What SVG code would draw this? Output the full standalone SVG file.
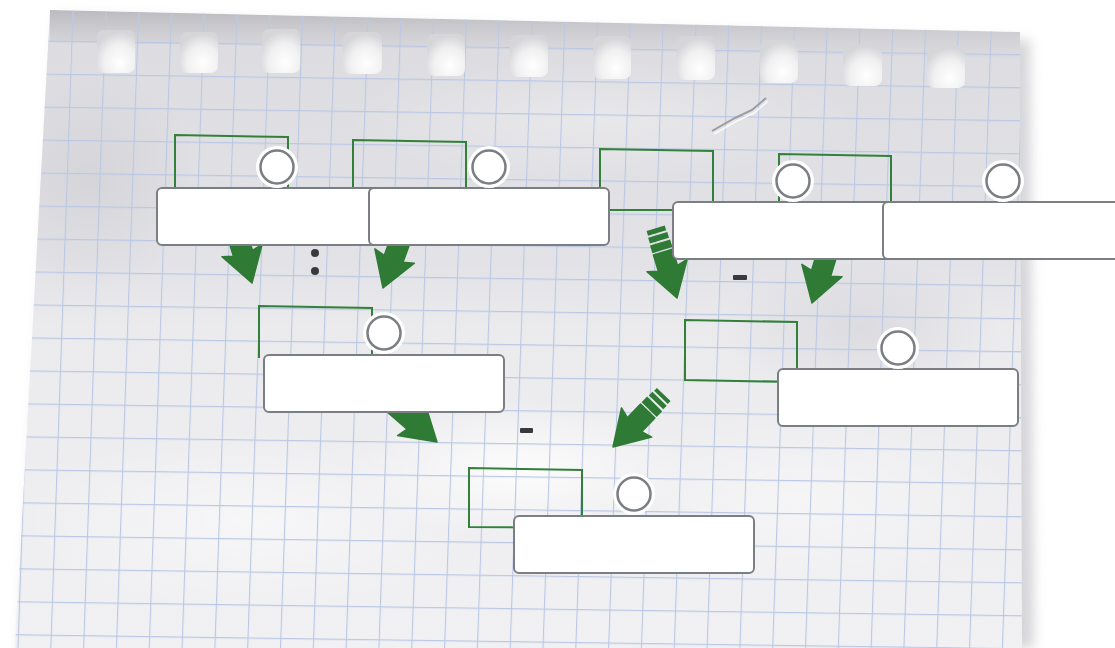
<svg xmlns="http://www.w3.org/2000/svg" width="1115" height="648" viewBox="0 0 1115 648">
  <defs>
    <style>
      .frame { fill: none; stroke: #33803a; stroke-width: 2; }
      .label { fill: #ffffff; stroke: #7b7e82; stroke-width: 2; }
      .ring { fill: #ffffff; }
      .badge { fill: #ffffff; stroke: #7b7e82; stroke-width: 2.5; }
      .arrow { fill: #2f7a34; stroke: #2f7a34; stroke-width: 1.5; stroke-linejoin: round; }
      .stripe { fill: #2f7a34; }
      .mark { fill: #3a3a3e; }
      .hole { fill: url(#holeGrad); }
    </style>
    <pattern id="grid" width="32.8" height="33" patternUnits="userSpaceOnUse" patternTransform="translate(7 7) rotate(0.8) skewX(-1.2)">
      <path d="M0 0.5 H32.8 M0.5 0 V33" fill="none" stroke="#bac8e4" stroke-width="1.3"/>
    </pattern>
    <linearGradient id="paperGrad" x1="0" y1="0" x2="0" y2="1">
      <stop offset="0" stop-color="#dcdce0"/>
      <stop offset="0.4" stop-color="#e3e3e7"/>
      <stop offset="0.5" stop-color="#ebebee"/>
      <stop offset="1" stop-color="#f1f1f3"/>
    </linearGradient>
    <radialGradient id="glow" cx="0.5" cy="0.5" r="0.5">
      <stop offset="0" stop-color="#ffffff" stop-opacity="0.85"/>
      <stop offset="1" stop-color="#ffffff" stop-opacity="0"/>
    </radialGradient>
    <radialGradient id="dim" cx="0.5" cy="0.5" r="0.5">
      <stop offset="0" stop-color="#b8b8bf" stop-opacity="0.3"/>
      <stop offset="1" stop-color="#b8b8bf" stop-opacity="0"/>
    </radialGradient>
    <radialGradient id="holeGrad" cx="0.6" cy="0.75" r="0.7">
      <stop offset="0" stop-color="#ffffff"/>
      <stop offset="0.6" stop-color="#f0f0f1"/>
      <stop offset="1" stop-color="#d6d6d9"/>
    </radialGradient>
    <linearGradient id="stripGrad" x1="0" y1="0" x2="0" y2="1">
      <stop offset="0" stop-color="#b4b4b9" stop-opacity="0.85"/>
      <stop offset="1" stop-color="#cfcfd3" stop-opacity="0.15"/>
    </linearGradient>
    <filter id="soft" x="-10%" y="-10%" width="120%" height="120%">
      <feGaussianBlur stdDeviation="6"/>
    </filter>
    <clipPath id="paperClip">
      <polygon points="50,10 1020,32 1022,648 15,648"/>
    </clipPath>
  </defs>

  <rect width="1115" height="648" fill="#ffffff"/>

  <!-- paper -->
  <g id="paper">
    <polygon points="58,16 1030,40 1034,648 20,648" fill="#9a9aa0" opacity="0.4" filter="url(#soft)"/>
    <polygon points="50,10 1020,32 1022,648 15,648" fill="url(#paperGrad)"/>
    <g clip-path="url(#paperClip)">
      <ellipse cx="520" cy="470" rx="170" ry="70" fill="url(#glow)"/>
      <ellipse cx="250" cy="520" rx="230" ry="90" fill="url(#glow)" opacity="0.6"/>
      <ellipse cx="800" cy="500" rx="220" ry="90" fill="url(#glow)" opacity="0.5"/>
      <ellipse cx="600" cy="120" rx="260" ry="60" fill="url(#glow)" opacity="0.35"/>
      <ellipse cx="860" cy="330" rx="140" ry="70" fill="url(#dim)"/>
      <ellipse cx="90" cy="180" rx="110" ry="110" fill="url(#dim)"/>
      <polygon points="50,10 1020,32 1020,58 50,42" fill="url(#stripGrad)"/>
      <rect x="0" y="0" width="1115" height="648" fill="url(#grid)"/>
      <path d="M712 131 L735 118 L752 110 L766 98" fill="none" stroke="#9c9ca2" stroke-width="2"/>
      <path d="M714 134 L737 121 L754 113 L768 101" fill="none" stroke="#ffffff" stroke-width="1.5" opacity="0.8"/>
    </g>
    <g id="holes">
      <rect class="hole" x="97" y="30" width="38" height="43" rx="7"/>
      <rect class="hole" x="180" y="32" width="38" height="41" rx="7"/>
      <rect class="hole" x="262" y="29" width="38" height="44" rx="7"/>
      <rect class="hole" x="343" y="32" width="39" height="42" rx="7"/>
      <rect class="hole" x="427" y="34" width="38" height="42" rx="7"/>
      <rect class="hole" x="510" y="35" width="38" height="42" rx="7"/>
      <rect class="hole" x="593" y="36" width="38" height="43" rx="7"/>
      <rect class="hole" x="677" y="36" width="38" height="44" rx="7"/>
      <rect class="hole" x="760" y="40" width="38" height="43" rx="7"/>
      <rect class="hole" x="843" y="44" width="39" height="42" rx="7"/>
      <rect class="hole" x="927" y="46" width="38" height="42" rx="7"/>
    </g>
  </g>

  <!-- green frames -->
  <g id="frames">
    <path id="frame-1" class="frame" d="M175 190 V135 L288 137 V190"/>
    <path id="frame-2" class="frame" d="M353 190 V140 L466 142 V190"/>
    <path id="frame-3" class="frame" d="M600 210 V149 L713 151 V210 Z"/>
    <path id="frame-4" class="frame" d="M779 205 V154 L891 156 V205"/>
    <path id="frame-5" class="frame" d="M259 358 V306 L372 308 V358"/>
    <path id="frame-6" class="frame" d="M685 380 V320 L797 322 V382 Z"/>
    <path id="frame-7" class="frame" d="M469 527 V468 L582 470 V528 Z"/>
  </g>

  <!-- connectors -->
  <g id="connectors">
    <path class="arrow" transform="translate(252 283) rotate(73)" d="M0 0 L-34 -21 L-31 -10 L-62 -10 L-62 10 L-31 10 L-34 21 Z"/>
    <path class="arrow" transform="translate(383 288) rotate(110)" d="M0 0 L-34 -21 L-31 -10 L-62 -10 L-62 10 L-31 10 L-34 21 Z"/>
    <g transform="translate(677 298) rotate(73)">
      <path class="arrow" d="M0 0 L-34 -21 L-31 -10 L-48 -10 L-48 10 L-31 10 L-34 21 Z"/>
      <rect class="stripe" x="-58" y="-10.5" width="8" height="21"/>
      <rect class="stripe" x="-66" y="-10" width="6" height="20"/>
      <rect class="stripe" x="-73" y="-9.5" width="5" height="19"/>
    </g>
    <path class="arrow" transform="translate(812 303) rotate(107)" d="M0 0 L-34 -21 L-31 -10 L-62 -10 L-62 10 L-31 10 L-34 21 Z"/>
    <path class="arrow" transform="translate(437 442) rotate(41)" d="M0 0 L-34 -21 L-31 -10 L-62 -10 L-62 10 L-31 10 L-34 21 Z"/>
    <g transform="translate(613 447) rotate(134)">
      <path class="arrow" d="M0 0 L-34 -21 L-31 -10 L-50 -10 L-50 10 L-31 10 L-34 21 Z"/>
      <rect class="stripe" x="-60" y="-10.5" width="8" height="21"/>
      <rect class="stripe" x="-67" y="-10" width="5" height="20"/>
      <rect class="stripe" x="-73" y="-9.5" width="4" height="19"/>
    </g>
  </g>

  <!-- operators -->
  <g id="operators">
    <circle class="mark" cx="315" cy="253" r="4"/>
    <circle class="mark" cx="315" cy="271" r="4"/>
    <rect class="mark" x="733" y="275" width="14" height="5" rx="1"/>
    <rect class="mark" x="520" y="428" width="13" height="5" rx="1"/>
  </g>

  <!-- nodes -->
  <g id="node-1">
    <rect class="label" x="157" y="188" width="240" height="57" rx="5"/>
    <circle class="ring" cx="277" cy="167" r="21"/>
    <circle class="badge" cx="277" cy="167" r="16.5"/>
  </g>
  <g id="node-2">
    <rect class="label" x="369" y="188" width="240" height="57" rx="5"/>
    <circle class="ring" cx="489" cy="167" r="21"/>
    <circle class="badge" cx="489" cy="167" r="16.5"/>
  </g>
  <g id="node-3">
    <rect class="label" x="673" y="202" width="240" height="57" rx="5"/>
    <circle class="ring" cx="793" cy="181" r="21"/>
    <circle class="badge" cx="793" cy="181" r="16.5"/>
  </g>
  <g id="node-4">
    <rect class="label" x="883" y="202" width="240" height="57" rx="5"/>
    <circle class="ring" cx="1003" cy="181" r="21"/>
    <circle class="badge" cx="1003" cy="181" r="16.5"/>
  </g>
  <g id="node-5">
    <rect class="label" x="264" y="355" width="240" height="57" rx="5"/>
    <circle class="ring" cx="384" cy="333" r="21"/>
    <circle class="badge" cx="384" cy="333" r="16.5"/>
  </g>
  <g id="node-6">
    <rect class="label" x="778" y="369" width="240" height="57" rx="5"/>
    <circle class="ring" cx="898" cy="348" r="21"/>
    <circle class="badge" cx="898" cy="348" r="16.5"/>
  </g>
  <g id="node-7">
    <rect class="label" x="514" y="516" width="240" height="57" rx="5"/>
    <circle class="ring" cx="634" cy="494" r="21"/>
    <circle class="badge" cx="634" cy="494" r="16.5"/>
  </g>
</svg>
